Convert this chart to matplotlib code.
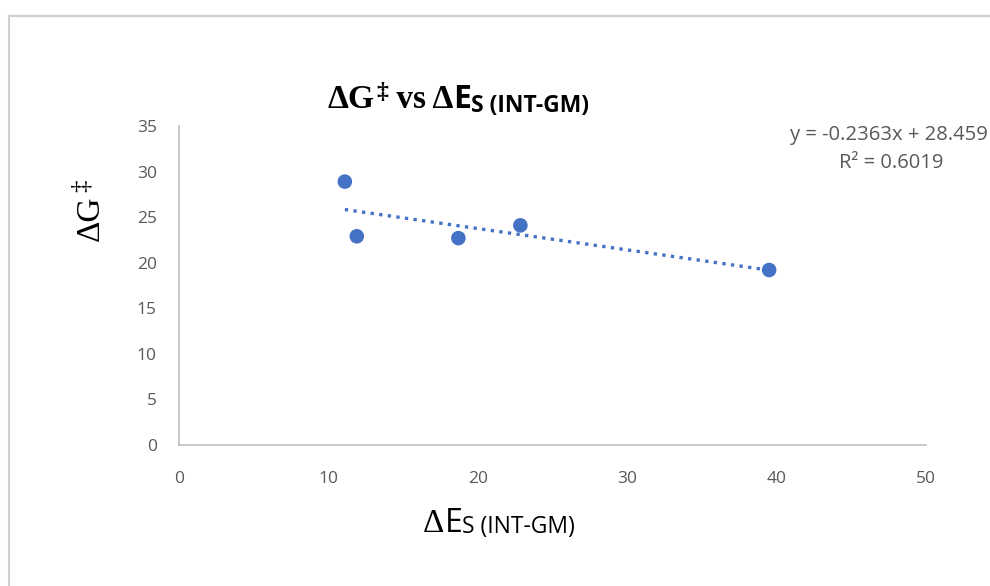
import numpy as np
import matplotlib.pyplot as plt
from matplotlib.patches import Rectangle

# data
dE = [11.1, 11.9, 18.7, 22.85, 39.5]
dG = [28.9, 22.9, 22.7, 24.1, 19.2]
xticks = [0, 10, 20, 30, 40, 50]
yticks = [0, 5, 10, 15, 20, 25, 30, 35]

blue = "#4472c4"
grey = "#595959"
sans = ["Open Sans", "DejaVu Sans"]
serif = "Liberation Serif"

W, H = 990, 586
fig = plt.figure(figsize=(W/100, H/100), dpi=100)
rend = fig.canvas.get_renderer()

# outer chart-area border (runs off the right / bottom edges)
fig.patches.append(Rectangle((8.5/W, -0.1), 1.2, (H-15.5)/H + 0.1, transform=fig.transFigure,
                             fill=False, edgecolor="#d0d0d0", linewidth=1.5))

ax = fig.add_axes([179/W, 1-445/H, (926-179)/W, (445-126)/H])
ax.set_xlim(0, 50)
ax.set_ylim(0, 35)
ax.set_xticks(xticks)
ax.set_yticks(yticks)
for s in ["top", "right"]:
    ax.spines[s].set_visible(False)
for s in ["left", "bottom"]:
    ax.spines[s].set_color("#bfbfbf")
    ax.spines[s].set_linewidth(1.2)
ax.tick_params(length=0, labelsize=12.5, labelcolor=grey)
ax.tick_params(axis="y", pad=16)
ax.tick_params(axis="x", pad=19)
for lab in ax.get_xticklabels() + ax.get_yticklabels():
    lab.set_family(sans)

ax.scatter(dE, dG, s=110, color=blue, zorder=3, edgecolors="none")

# linear trendline
x = np.array(dE)
y = np.array(dG)
m, b = np.polyfit(x, y, 1)
xs = np.array([x.min(), x.max()])
ax.plot(xs, m*xs + b, color=blue, linestyle=(0, (1, 1.6)), linewidth=2.4, zorder=2)

# equation text, right up against the edge
fig.text(790/W, 1-135/H, "y = -0.2363x + 28.459", fontsize=14.6, color=grey,
         family=sans, va="center", ha="left")
fig.text(891/W, 1-163/H, "R² = 0.6019", fontsize=14.5, color=grey,
         family=sans, va="center", ha="center")


def chain(x0, ybase, pieces):
    # place text pieces one after another, pixel coords from top-left
    xp = x0
    for s, kw, dy, gap in pieces:
        t = fig.text(xp/W, 1-(ybase+dy)/H, s, va="baseline", ha="left", **kw)
        xp += t.get_window_extent(rend).width + gap


# title: mixed serif / sans
chain(328, 108, [
    ("ΔG", dict(fontsize=24, fontweight="bold", family=serif), 0, 1),
    ("‡", dict(fontsize=17, fontweight="bold", family=serif), -10, 0),
    (" vs Δ", dict(fontsize=24, fontweight="bold", family=serif), 0, 0),
    ("E", dict(fontsize=23, fontweight="bold", family=sans), 0, 0),
    ("S (INT-GM)", dict(fontsize=16.5, fontweight="bold", family=sans), 4, 0),
])

# x label
chain(423, 532, [
    ("Δ", dict(fontsize=24, family=serif), 0, 0),
    ("E", dict(fontsize=23, family=sans), 0, 0),
    ("S (INT-GM)", dict(fontsize=16.5, family=sans), 1, 0),
])

# y label
fig.text(91/W, 1-218/H, "ΔG", fontsize=24, family=serif, rotation=90,
         va="center", ha="center")
fig.text(82/W, 1-186/H, "‡", fontsize=18, family=serif, rotation=90,
         va="center", ha="center")

fig.savefig("out.png", dpi=100)
